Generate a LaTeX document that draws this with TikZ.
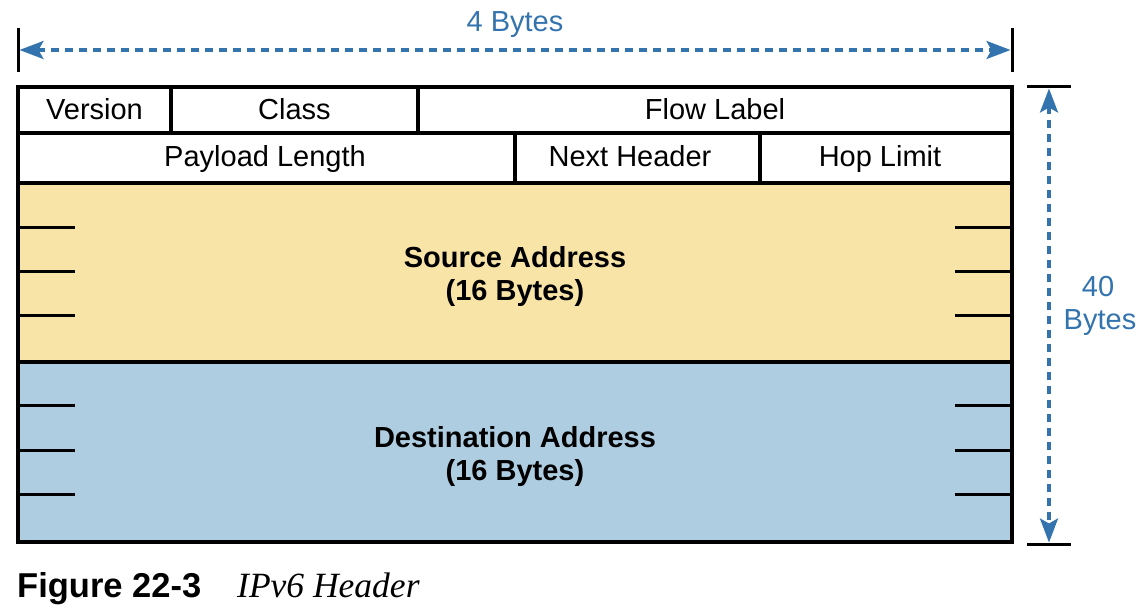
\documentclass[tikz,border=0pt]{standalone}
\usepackage{fontspec}
\setmainfont{Liberation Sans}
\newfontfamily\capserif{Liberation Serif}
\usetikzlibrary{arrows.meta}
\definecolor{srcfill}{HTML}{F9E4A8}
\definecolor{dstfill}{HTML}{AFCDE1}
\definecolor{dimblue}{HTML}{3373AE}
\begin{document}
\begin{tikzpicture}[x=1pt,y=-1pt,
  field/.style={draw=black, line width=3.5pt, inner sep=0pt, anchor=center},
  lbl/.style={font=\fontsize{29}{32}\selectfont, inner sep=0pt, anchor=base},
  blbl/.style={font=\fontsize{29}{32}\selectfont\bfseries, inner sep=0pt, anchor=base},
  dimlbl/.style={font=\fontsize{29}{32}\selectfont, text=dimblue, inner sep=0pt, anchor=base},
  tick/.style={line width=3pt, black},
  bar/.style={line width=3pt, black},
  dimarrow/.style={dimblue, line width=3.2pt, dash pattern=on 8pt off 6pt, {Stealth[length=24pt,width=18pt,inset=5pt]}-{Stealth[length=24pt,width=18pt,inset=5pt]}}
]
\useasboundingbox (0,0) rectangle (1144,612);
% row 1
\node[field, minimum width=153pt, minimum height=46pt] (ver) at (94.5,110) {};
\node[field, minimum width=247pt, minimum height=46pt] (cls) at (294.5,110) {};
\node[field, minimum width=594pt, minimum height=46pt] (flow) at (715,110) {};
% row 2
\node[field, minimum width=497pt, minimum height=50pt] (pay) at (266.5,158) {};
\node[field, minimum width=245pt, minimum height=50pt] (nxt) at (637.5,158) {};
\node[field, minimum width=252pt, minimum height=50pt] (hop) at (886,158) {};
% addresses
\node[field, fill=srcfill, minimum width=994pt, minimum height=179pt] (src) at (515,272.5) {};
\node[field, fill=dstfill, minimum width=994pt, minimum height=180pt] (dst) at (515,452) {};
% labels
\node[lbl] (tver) at (94.5,120) {Version};
\node[lbl] (tcls) at (294.5,120) {Class};
\node[lbl] (tflow) at (715,120) {Flow Label};
\node[lbl] (tpay) at (265,166.5) {Payload Length};
\node[lbl] (tnxt) at (630,166.5) {Next Header};
\node[lbl] (thop) at (880,166.5) {Hop Limit};
\node[blbl] (tsrc) at (515,267.5) {Source Address};
\node[blbl] (tsrcb) at (515,300.5) {(16 Bytes)};
\node[blbl] (tdst) at (515,447.5) {Destination Address};
\node[blbl] (tdstb) at (515,480.5) {(16 Bytes)};
% ticks
\foreach \y in {228,272,316,406,450,494}{
  \draw[tick] (18,\y) -- (75,\y);
  \draw[tick] (955,\y) -- (1012,\y);
}
% top dimension
\coordinate (tl1) at (18,28); \coordinate (tl2) at (18,72);
\coordinate (tr1) at (1012,28); \coordinate (tr2) at (1012,72);
\draw[bar] (tl1) -- (tl2);
\draw[bar] (tr1) -- (tr2);
\coordinate (ta) at (19.5,50); \coordinate (tb) at (1010.5,50);
\draw[dimarrow] (ta) -- (tb);
\node[dimlbl] (w) at (515,32) {4 Bytes};
% right dimension
\coordinate (rt1) at (1027,87); \coordinate (rt2) at (1071,87);
\coordinate (rb1) at (1027,544); \coordinate (rb2) at (1071,544);
\draw[bar] (rt1) -- (rt2);
\draw[bar] (rb1) -- (rb2);
\coordinate (ra) at (1049,88.5); \coordinate (rb) at (1049,542.5);
\draw[dimarrow] (ra) -- (rb);
\node[dimlbl] (h) at (1098,297) {40};
\node[dimlbl] (hb) at (1100,330) {Bytes};
% caption
\node[anchor=base west, inner sep=0pt, font=\fontsize{34.5}{36}\selectfont\bfseries] (fig) at (17,597) {Figure 22-3};
\node[anchor=base west, inner sep=0pt, font=\fontsize{35.5}{36}\selectfont\capserif\itshape] (cap) at (237,597) {IPv6 Header};
\end{tikzpicture}
\end{document}
